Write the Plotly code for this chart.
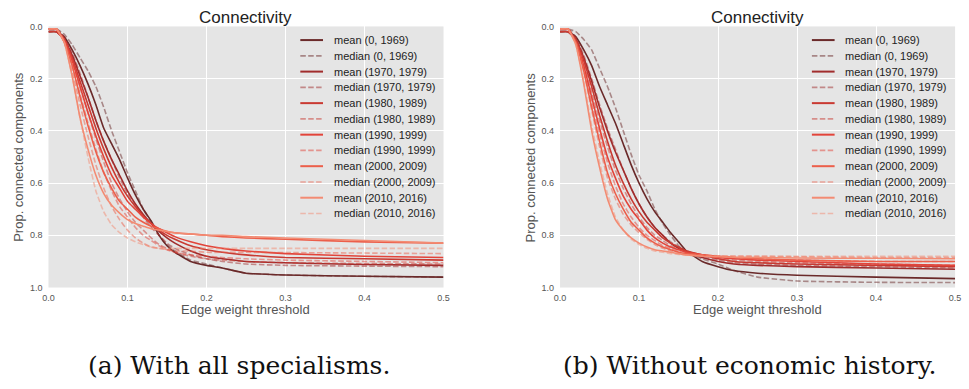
import plotly.graph_objects as go

# ---------------- data ----------------
THRESHOLDS = [0, .01, .02, .03, .04, .05, .06, .07, .08, .09, .10, .11, .12, .13,
              .14, .15, .16, .18, .20, .22, .25, .30, .40, .50]

PERIODS = ["(0, 1969)", "(1970, 1979)", "(1980, 1989)", "(1990, 1999)",
           "(2000, 2009)", "(2010, 2016)"]

# (a) With all specialisms
A_MEAN_0_1969 = [.02, .02, .04, .09, .15, .22, .30, .39, .45, .51, .58, .645, .70, .745, .80, .84, .865, .90, .915, .925, .945, .952, .957, .96]
A_MED_0_1969 = [.01, .01, .03, .07, .12, .17, .23, .31, .40, .48, .56, .63, .70, .75, .80, .835, .86, .895, .91, .925, .945, .952, .957, .96]
A_MEAN_1970_1979 = [.02, .02, .05, .11, .19, .27, .36, .44, .51, .57, .63, .68, .72, .755, .785, .81, .83, .86, .88, .89, .90, .905, .912, .915]
A_MED_1970_1979 = [.01, .01, .04, .10, .18, .27, .36, .44, .51, .58, .64, .69, .73, .77, .80, .83, .85, .875, .89, .90, .91, .915, .918, .92]
A_MEAN_1980_1989 = [.02, .02, .05, .12, .21, .30, .39, .47, .54, .60, .65, .69, .725, .755, .78, .80, .815, .84, .855, .865, .875, .885, .89, .895]
A_MED_1980_1989 = [.01, .01, .05, .13, .23, .33, .43, .52, .60, .66, .71, .75, .78, .81, .835, .85, .865, .88, .89, .895, .90, .905, .908, .91]
A_MEAN_1990_1999 = [.01, .01, .05, .13, .23, .33, .42, .50, .57, .62, .67, .70, .73, .755, .775, .79, .805, .825, .84, .85, .86, .87, .88, .885]
A_MED_1990_1999 = [.01, .01, .05, .14, .26, .37, .47, .56, .63, .69, .73, .77, .80, .82, .84, .855, .865, .875, .88, .885, .89, .895, .90, .905]
A_MEAN_2000_2009 = [.01, .01, .06, .15, .27, .38, .48, .56, .62, .67, .70, .73, .75, .765, .775, .785, .79, .795, .80, .805, .81, .815, .825, .83]
A_MED_2000_2009 = [.01, .01, .06, .17, .30, .42, .53, .62, .69, .74, .78, .81, .83, .845, .85, .855, .86, .86, .865, .865, .865, .866, .868, .87]
A_MEAN_2010_2016 = [.01, .01, .06, .19, .35, .47, .57, .64, .685, .715, .74, .755, .765, .775, .78, .785, .79, .795, .80, .80, .805, .81, .82, .83]
A_MED_2010_2016 = [.01, .01, .06, .19, .35, .50, .63, .71, .76, .79, .81, .825, .835, .845, .85, .85, .85, .85, .85, .85, .85, .85, .85, .85]

# (b) Without economic history
B_MEAN_0_1969 = [.02, .02, .04, .09, .15, .23, .30, .37, .45, .53, .60, .66, .71, .75, .79, .825, .86, .90, .92, .935, .945, .953, .96, .966]
B_MED_0_1969 = [.01, .01, .02, .05, .09, .16, .23, .31, .40, .49, .57, .63, .70, .755, .80, .84, .865, .89, .91, .935, .96, .975, .98, .981]
B_MEAN_1970_1979 = [.02, .02, .05, .12, .21, .31, .40, .48, .55, .62, .68, .73, .77, .80, .83, .85, .865, .885, .90, .91, .915, .92, .925, .93]
B_MED_1970_1979 = [.01, .01, .04, .11, .20, .30, .39, .47, .55, .62, .68, .73, .77, .80, .825, .845, .86, .88, .895, .905, .91, .915, .92, .925]
B_MEAN_1980_1989 = [.02, .02, .05, .13, .23, .34, .44, .53, .60, .66, .71, .75, .78, .81, .83, .845, .86, .875, .89, .90, .905, .91, .915, .92]
B_MED_1980_1989 = [.01, .01, .05, .14, .25, .36, .46, .55, .62, .68, .73, .77, .80, .82, .84, .85, .86, .875, .885, .895, .90, .905, .91, .915]
B_MEAN_1990_1999 = [.01, .01, .06, .15, .27, .39, .50, .58, .65, .70, .74, .78, .81, .83, .845, .855, .865, .875, .885, .89, .895, .90, .91, .915]
B_MED_1990_1999 = [.01, .01, .06, .16, .29, .41, .52, .61, .68, .73, .77, .80, .82, .84, .85, .86, .865, .875, .88, .885, .89, .895, .90, .90]
B_MEAN_2000_2009 = [.01, .01, .06, .17, .31, .44, .56, .64, .70, .75, .78, .81, .83, .845, .855, .865, .87, .875, .88, .885, .89, .895, .90, .90]
B_MED_2000_2009 = [.01, .01, .06, .17, .32, .46, .58, .66, .72, .76, .79, .815, .835, .85, .86, .865, .87, .875, .88, .88, .88, .882, .885, .885]
B_MEAN_2010_2016 = [.01, .01, .07, .22, .40, .54, .66, .74, .78, .81, .83, .845, .855, .86, .865, .87, .875, .88, .882, .884, .885, .887, .888, .89]
B_MED_2010_2016 = [.01, .01, .07, .21, .38, .52, .64, .73, .78, .815, .835, .85, .86, .865, .87, .873, .875, .877, .878, .879, .88, .88, .88, .88]

X_TICKS = [0.0, 0.1, 0.2, 0.3, 0.4, 0.5]
Y_TICKS = [0.0, 0.2, 0.4, 0.6, 0.8, 1.0]

# ---------------- style ----------------
COLORS = ["#6b2a2a", "#a12d2d", "#c93a32", "#e2443a", "#ec5f4b", "#f38b73"]
MEDIAN_OPACITY = 0.5
W, H = 969, 389
PLOT_TOP, PLOT_BOTTOM = 22, 290
PANELS = [
    dict(x0=43, x1=443, xaxis="x", yaxis="y", ytitle_x=13,
         caption="(a) With all specialisms.", cap_x=236,
         means=[A_MEAN_0_1969, A_MEAN_1970_1979, A_MEAN_1980_1989, A_MEAN_1990_1999, A_MEAN_2000_2009, A_MEAN_2010_2016],
         meds=[A_MED_0_1969, A_MED_1970_1979, A_MED_1980_1989, A_MED_1990_1999, A_MED_2000_2009, A_MED_2010_2016]),
    dict(x0=561, x1=961, xaxis="x2", yaxis="y2", ytitle_x=532,
         caption="(b) Without economic history.", cap_x=753,
         means=[B_MEAN_0_1969, B_MEAN_1970_1979, B_MEAN_1980_1989, B_MEAN_1990_1999, B_MEAN_2000_2009, B_MEAN_2010_2016],
         meds=[B_MED_0_1969, B_MED_1970_1979, B_MED_1980_1989, B_MED_1990_1999, B_MED_2000_2009, B_MED_2010_2016]),
]

SANS = "Liberation Sans, Arial, sans-serif"
SERIF = "DejaVu Serif, Liberation Serif, serif"
DASH = "5.5px,2.4px"

# legend key geometry (pixels inside each panel, matplotlib-like spacing)
LEG_KEY_X0, LEG_KEY_X1, LEG_TEXT_X = 255, 278, 287
LEG_FIRST_Y, LEG_STEP = 36, 16.18

fig = go.Figure()
shapes, annotations = [], []

y_dom = [1 - PLOT_BOTTOM / H, 1 - PLOT_TOP / H]
plot_h = PLOT_BOTTOM - PLOT_TOP

for idx, p in enumerate(PANELS):
    plot_w = p["x1"] - p["x0"]
    for k, period in enumerate(PERIODS):
        fig.add_trace(go.Scatter(
            x=THRESHOLDS, y=p["means"][k], mode="lines", name="mean " + period,
            line=dict(color=COLORS[k], width=1.6, shape="spline", smoothing=0.4),
            xaxis=p["xaxis"], yaxis=p["yaxis"], showlegend=False))
        fig.add_trace(go.Scatter(
            x=THRESHOLDS, y=p["meds"][k], mode="lines", name="median " + period,
            line=dict(color=COLORS[k], width=1.6, dash=DASH, shape="spline", smoothing=0.4),
            opacity=MEDIAN_OPACITY,
            xaxis=p["xaxis"], yaxis=p["yaxis"], showlegend=False))

    sfx = "" if idx == 0 else "2"
    axis_common = dict(showgrid=True, gridcolor="white", gridwidth=1.3, zeroline=False,
                       showline=False, ticks="", tickfont=dict(family=SANS, size=9, color="#555555"))
    fig.update_layout(**{
        "xaxis" + sfx: dict(domain=[p["x0"] / W, p["x1"] / W], range=[0, 0.5],
                            tickvals=X_TICKS, tickformat=".1f", anchor="y" + sfx,
                            ticklabelstandoff=3, **axis_common),
        "yaxis" + sfx: dict(domain=y_dom, range=[1, 0], tickvals=Y_TICKS, tickformat=".1f",
                            anchor="x" + sfx, ticklabelstandoff=5, **axis_common),
    })

    cx = (p["x0"] + p["x1"]) / 2
    annotations.append(dict(text="Connectivity", x=cx / W, y=1 - 13 / H, xref="paper", yref="paper",
                            showarrow=False, xanchor="center", yanchor="middle",
                            font=dict(family=SANS, size=17, color="#222222")))
    annotations.append(dict(text="Edge weight threshold", x=cx / W, y=1 - 313 / H, xref="paper",
                            yref="paper", showarrow=False, xanchor="center", yanchor="middle",
                            font=dict(family=SANS, size=13, color="#555555")))
    annotations.append(dict(text="Prop. connected components", x=p["ytitle_x"] / W,
                            y=1 - (PLOT_TOP + PLOT_BOTTOM) / 2 / H, xref="paper", yref="paper",
                            showarrow=False, textangle=-90, xanchor="center", yanchor="middle",
                            font=dict(family=SANS, size=13, color="#555555")))
    annotations.append(dict(text=p["caption"], x=p["cap_x"] / W, y=1 - 370 / H, xref="paper",
                            yref="paper", showarrow=False, xanchor="center", yanchor="middle",
                            font=dict(family=SERIF, size=25, color="#111111")))

    # legend drawn with shapes + text so the entry spacing matches the reference
    xr = p["xaxis"] + " domain"
    yr = p["yaxis"] + " domain"
    for k, period in enumerate(PERIODS):
        for j, (label, dashed) in enumerate([("mean", False), ("median", True)]):
            i = 2 * k + j
            yd = 1 - (LEG_FIRST_Y + i * LEG_STEP - PLOT_TOP) / plot_h
            shapes.append(dict(type="line", xref=xr, yref=yr,
                               x0=LEG_KEY_X0 / plot_w, x1=LEG_KEY_X1 / plot_w,
                               y0=yd, y1=yd, opacity=MEDIAN_OPACITY if dashed else 1,
                               line=dict(color=COLORS[k], width=1.6 if dashed else 2,
                                         dash=DASH if dashed else "solid")))
            annotations.append(dict(text=f"{label} {period}", xref=xr, yref=yr,
                                    x=LEG_TEXT_X / plot_w, y=yd,
                                    showarrow=False, xanchor="left", yanchor="middle",
                                    font=dict(family=SANS, size=11, color="#222222")))

fig.update_layout(width=W, height=H, margin=dict(l=0, r=0, t=0, b=0),
                  plot_bgcolor="#e5e5e5", paper_bgcolor="white",
                  shapes=shapes, annotations=annotations, showlegend=False)

fig.write_html("out.html")
